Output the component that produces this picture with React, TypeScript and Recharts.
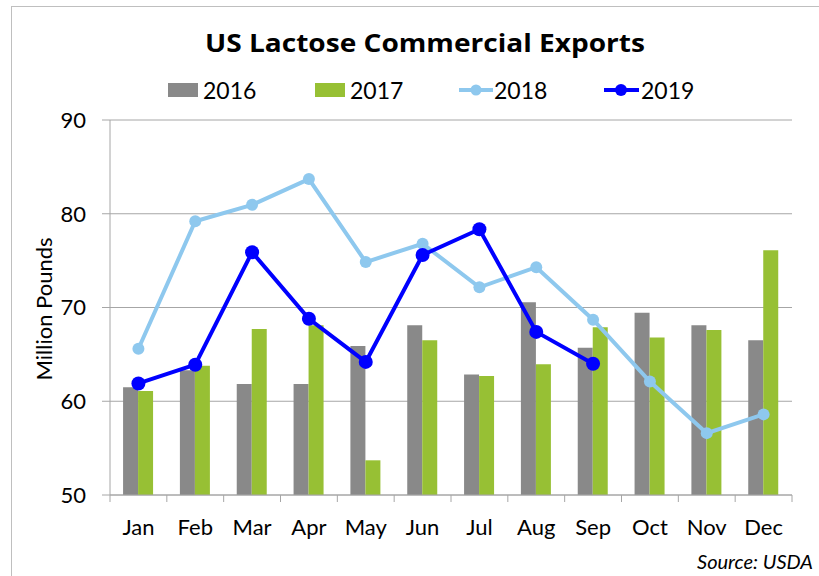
import React from 'react';
import { ComposedChart, Bar, Line, XAxis, YAxis, CartesianGrid, Legend } from 'recharts';

const months = ['Jan', 'Feb', 'Mar', 'Apr', 'May', 'Jun', 'Jul', 'Aug', 'Sep', 'Oct', 'Nov', 'Dec'];
const exports2016 = [61.5, 63.3, 61.85, 61.85, 65.9, 68.1, 62.85, 70.55, 65.7, 69.45, 68.1, 66.5];
const exports2017 = [61.1, 63.8, 67.7, 68.1, 53.7, 66.5, 62.7, 63.95, 67.9, 66.8, 67.6, 76.1];
const exports2018 = [65.6, 79.2, 80.95, 83.7, 74.85, 76.8, 72.15, 74.3, 68.7, 62.1, 56.6, 58.6];
const exports2019 = [61.9, 63.9, 75.9, 68.8, 64.2, 75.6, 78.35, 67.4, 64.0, null, null, null];
const yTicks = [50, 60, 70, 80, 90];
const seriesNames = ['2016', '2017', '2018', '2019'];

const data = months.map((m, i) => ({
  month: m,
  y2016: exports2016[i],
  y2017: exports2017[i],
  y2018: exports2018[i],
  y2019: exports2019[i],
}));

// colours
const GRAY = '#898989';
const GREEN = '#97c034';
const LIGHT_BLUE = '#8ec8ee';
const BLUE = '#0000ff';
const AXIS = '#a6a6a6';
const FONT = 'Lato, "Open Sans", sans-serif';

const W = 819;
const H = 576;
const MARGIN = { top: 120, right: 27, bottom: 41, left: 50 };
const Y_AXIS_W = 60;
const PLOT_W = W - MARGIN.left - MARGIN.right - Y_AXIS_W;
const BAND = PLOT_W / months.length;

// x ticks: label in the middle, tick marks on the category boundaries
const XTick = (props: any) => {
  const { x, y, payload, index } = props;
  return (
    <g>
      <line x1={x - BAND / 2} x2={x - BAND / 2} y1={y - 7} y2={y} stroke={AXIS} />
      {index === months.length - 1 && (
        <line x1={x + BAND / 2} x2={x + BAND / 2} y1={y - 7} y2={y} stroke={AXIS} />
      )}
      <text x={x} y={y + 33} textAnchor="middle" fill="#000" fontSize={22} fontFamily={FONT}>
        {payload.value}
      </text>
    </g>
  );
};

const LegendBox = () => (
  <svg width={W} height={44} style={{ display: 'block', overflow: 'visible' }}>
    <rect x={168} y={16} width={30} height={14} fill={GRAY} />
    <text x={203} y={32} fontSize={23} fontFamily={FONT} fill="#000">{seriesNames[0]}</text>
    <rect x={315} y={16} width={30} height={14} fill={GREEN} />
    <text x={350} y={32} fontSize={23} fontFamily={FONT} fill="#000">{seriesNames[1]}</text>
    <line x1={459} x2={493} y1={23} y2={23} stroke={LIGHT_BLUE} strokeWidth={4} />
    <circle cx={476} cy={23} r={5.5} fill={LIGHT_BLUE} />
    <text x={494} y={32} fontSize={23} fontFamily={FONT} fill="#000">{seriesNames[2]}</text>
    <line x1={604} x2={639} y1={23} y2={23} stroke={BLUE} strokeWidth={4} />
    <circle cx={621} cy={23} r={6} fill={BLUE} />
    <text x={641} y={32} fontSize={23} fontFamily={FONT} fill="#000">{seriesNames[3]}</text>
  </svg>
);

const App: React.FC = () => {
  return (
    <div style={{ position: 'absolute', left: 0, top: 0, width: W, height: H, overflow: 'hidden', background: '#fff' }}>
      <div
        style={{
          position: 'absolute', left: 11, top: 6, width: W, height: H,
          borderTop: '1px solid #bfbfbf', borderLeft: '1px solid #bfbfbf',
        }}
      />
      <div style={{ position: 'absolute', left: 0, top: 0 }}>
        <ComposedChart
          width={W}
          height={H}
          data={data}
          margin={MARGIN}
          barCategoryGap="23%"
          barGap={0}
        >
          <CartesianGrid vertical={false} stroke={AXIS} />
          <XAxis
            dataKey="month"
            interval={0}
            height={40}
            axisLine={{ stroke: AXIS }}
            tickLine={false}
            tickSize={7}
            tickMargin={0}
            tick={<XTick />}
          />
          <YAxis
            width={Y_AXIS_W}
            domain={[50, 90]}
            ticks={yTicks}
            interval={0}
            allowDataOverflow
            axisLine={{ stroke: AXIS }}
            tickLine={{ stroke: AXIS }}
            tickSize={8}
            tickMargin={16}
            tick={{ fill: '#000', fontSize: 22, fontFamily: FONT }}
          />
          <Legend
            verticalAlign="middle"
            align="center"
            wrapperStyle={{ top: 67, left: 0, width: W, height: 44 }}
            content={() => <LegendBox />}
          />
          <Bar dataKey="y2016" name="2016" fill={GRAY} isAnimationActive={false} />
          <Bar dataKey="y2017" name="2017" fill={GREEN} isAnimationActive={false} />
          <Line
            type="linear"
            dataKey="y2018"
            name="2018"
            stroke={LIGHT_BLUE}
            strokeWidth={4}
            dot={{ r: 6, fill: LIGHT_BLUE, stroke: 'none' }}
            activeDot={false}
            isAnimationActive={false}
          />
          <Line
            type="linear"
            dataKey="y2019"
            name="2019"
            stroke={BLUE}
            strokeWidth={4}
            dot={{ r: 7, fill: BLUE, stroke: 'none' }}
            activeDot={false}
            isAnimationActive={false}
          />
        </ComposedChart>
      </div>
      <svg width={W} height={H} style={{ position: 'absolute', left: 0, top: 0, pointerEvents: 'none' }}>
        <text
          x={425}
          y={52}
          textAnchor="middle"
          fontSize={25}
          fontWeight="bold"
          fontFamily={'"Open Sans", Lato, sans-serif'}
          textLength={440}
          lengthAdjust="spacingAndGlyphs"
          fill="#000"
        >
          US Lactose Commercial Exports
        </text>
        <text
          x={43}
          y={309}
          transform="rotate(-90 43 309)"
          textAnchor="middle"
          dominantBaseline="central"
          fontSize={22}
          fontFamily={FONT}
          fill="#000"
        >
          Million Pounds
        </text>
        <text
          x={813}
          y={569}
          textAnchor="end"
          fontSize={20}
          fontStyle="italic"
          fontFamily={FONT}
          fill="#000"
        >
          Source: USDA
        </text>
      </svg>
    </div>
  );
};

export default App;
